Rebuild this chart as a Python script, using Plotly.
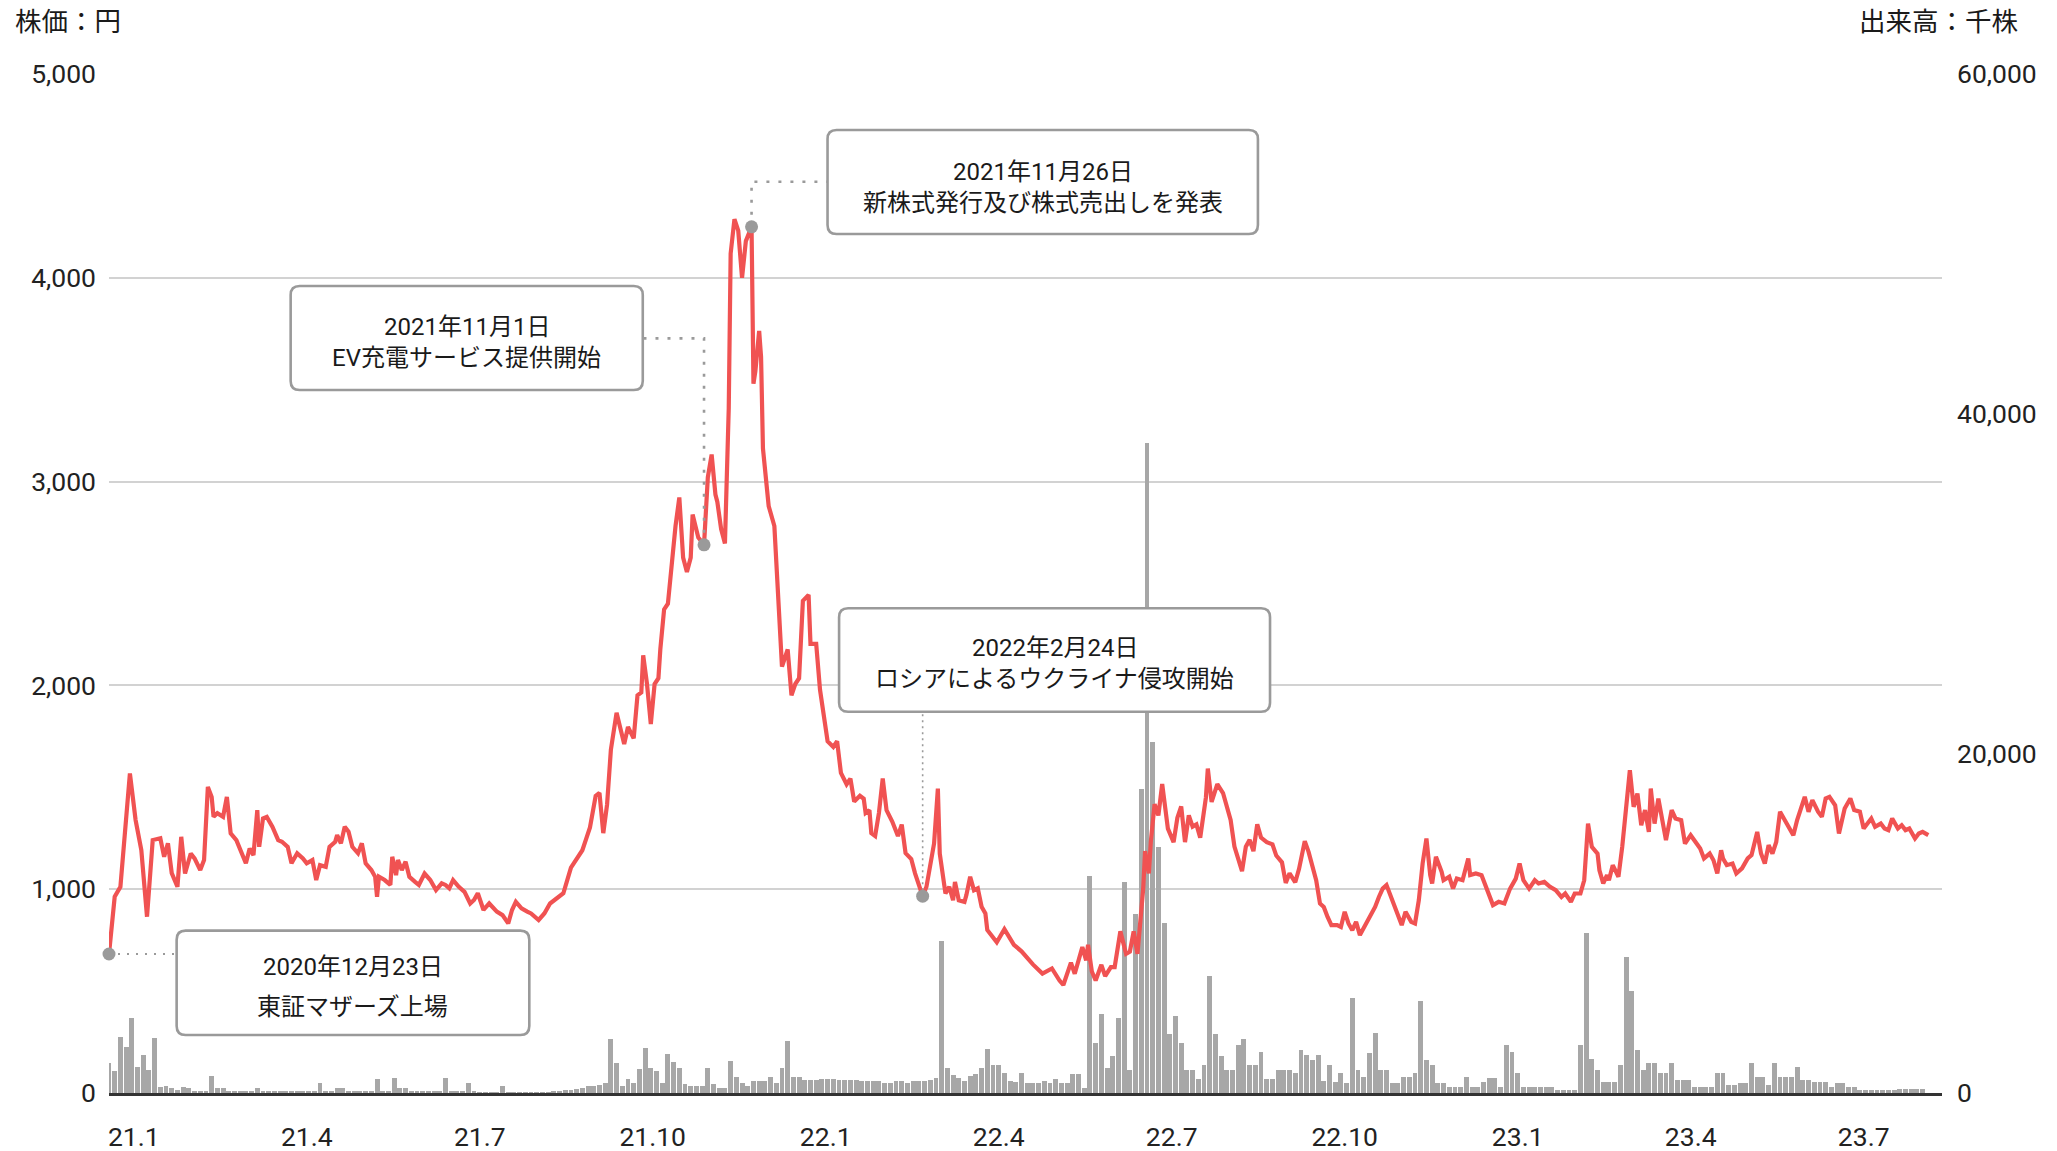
import pandas as pd
import plotly.graph_objects as go

# ---------------------------------------------------------------- data
LISTING = pd.Timestamp("2020-12-23")

# Closing price (yen); x is days elapsed since the listing date
price_day = [
    0, 3, 6, 11, 14, 17, 20, 23, 27, 29, 31, 33, 36, 38, 40, 43, 45, 48, 50, 52,
    54, 55, 57, 60, 62, 64, 67, 69, 72, 74, 76, 78, 79, 81, 83, 86, 89, 91, 94, 96,
    99, 102, 104, 107, 109, 111, 114, 116, 119, 120, 122, 124, 126, 128, 131, 133, 135, 138, 140, 141,
    142, 145, 148, 149, 151, 152, 154, 156, 158, 161, 163, 166, 169, 172, 175, 177, 179, 181, 184, 187,
    190, 192, 194, 197, 200, 204, 207, 210, 212, 214, 217, 220, 222, 226, 229, 232, 239, 243, 246, 249,
    251, 253, 256, 258, 260, 262, 264, 267, 271, 273, 276, 278, 280, 281, 283, 285, 287, 289, 290, 292,
    294, 295, 298, 300, 302, 304, 306, 307, 309, 310, 313, 315, 317, 319, 320, 322, 324, 326, 327, 329,
    331, 333, 335, 338, 339, 340, 342, 343, 344, 347, 350, 352, 354, 357, 359, 361, 363, 365, 368, 369,
    372, 374, 378, 381, 383, 385, 388, 390, 392, 395, 397, 398, 400, 401, 403, 405, 407, 409, 412, 415,
    417, 419, 422, 424, 426, 428, 430, 432, 434, 436, 437, 440, 442, 444, 445, 447, 450, 451, 453, 455,
    457, 459, 461, 462, 467, 471, 476, 480, 486, 491, 496, 500, 502, 506, 508, 512, 514, 515, 517, 519,
    522, 524, 527, 529, 532, 535, 537, 539, 541, 544, 545, 547, 548, 550, 552, 554, 557, 560, 562, 564,
    566, 568, 570, 572, 574, 577, 578, 580, 583, 586, 588, 590, 592, 594, 596, 598, 600, 602, 604, 606,
    609, 612, 614, 617, 619, 621, 624, 626, 629, 631, 635, 637, 639, 641, 643, 646, 648, 650, 652, 654,
    656, 658, 661, 663, 666, 668, 670, 672, 675, 678, 680, 682, 685, 687, 689, 691, 693, 695, 696, 698,
    701, 702, 705, 707, 709, 712, 715, 716, 719, 722, 725, 728, 731, 734, 737, 740, 742, 744, 747, 750,
    752, 755, 758, 761, 764, 766, 769, 771, 774, 776, 778, 780, 783, 784, 786, 788, 789, 791, 794, 796,
    800, 802, 804, 806, 808, 810, 811, 813, 815, 817, 819, 822, 824, 827, 829, 832, 834, 837, 839, 842,
    844, 846, 848, 849, 851, 854, 856, 859, 862, 864, 867, 869, 871, 873, 875, 877, 879, 882, 884, 886,
    888, 890, 892, 894, 896, 899, 901, 903, 905, 908, 910, 913, 916, 918, 921, 923, 925, 927, 929, 932,
    934, 936, 938, 941, 943, 945, 947, 950, 952, 954, 957,
]
price_yen = [
    682, 963, 1012, 1568, 1339, 1192, 865, 1241, 1250, 1159, 1225, 1079, 1012, 1257, 1077, 1175, 1151, 1094, 1143, 1502,
    1453, 1355, 1373, 1355, 1453, 1274, 1241, 1192, 1127, 1200, 1167, 1388, 1208, 1347, 1355, 1306, 1241, 1233, 1208, 1127,
    1176, 1151, 1127, 1143, 1045, 1118, 1110, 1208, 1233, 1265, 1225, 1306, 1282, 1208, 1176, 1225, 1127, 1094, 1061, 963,
    1061, 1045, 1021, 1159, 1069, 1143, 1094, 1135, 1061, 1036, 1021, 1077, 1045, 996, 1029, 1021, 1004, 1045, 1012, 987,
    930, 947, 980, 898, 930, 890, 873, 832, 898, 938, 906, 890, 881, 849, 881, 930, 980, 1106, 1148, 1191,
    1247, 1303, 1458, 1472, 1275, 1416, 1684, 1866, 1712, 1796, 1740, 1951, 1965, 2148, 2007, 1810, 2007, 2035, 2176, 2373,
    2401, 2500, 2782, 2922, 2627, 2556, 2627, 2838, 2767, 2725, 2690, 3021, 3133, 2936, 2900, 2767, 2697, 3359, 4119, 4288,
    4231, 4000, 4180, 4250, 3480, 3542, 3739, 3612, 3162, 2880, 2782, 2458, 2092, 2176, 1951, 2007, 2035, 2415, 2444, 2204,
    2204, 1979, 1726, 1698, 1726, 1571, 1515, 1543, 1430, 1458, 1444, 1374, 1388, 1275, 1261, 1374, 1543, 1388, 1332, 1261,
    1317, 1177, 1148, 1078, 1022, 966, 1012, 1110, 1224, 1494, 1175, 979, 1012, 946, 1036, 946, 938, 971, 1061, 995,
    1004, 914, 881, 800, 740, 804, 727, 695, 631, 586, 611, 552, 530, 640, 585, 716, 651, 727, 596, 552,
    629, 574, 618, 618, 793, 683, 694, 793, 683, 1001, 1187, 1078, 1231, 1417, 1362, 1516, 1297, 1231, 1351, 1406,
    1231, 1362, 1307, 1318, 1253, 1450, 1592, 1428, 1516, 1472, 1406, 1340, 1209, 1143, 1089, 1209, 1242, 1187, 1318, 1253,
    1231, 1220, 1165, 1132, 1031, 1078, 1034, 1100, 1236, 1183, 1044, 930, 913, 864, 824, 824, 815, 889, 832, 799,
    840, 775, 824, 864, 913, 962, 1003, 1020, 946, 881, 824, 889, 840, 832, 946, 1126, 1249, 1069, 1028, 1159,
    1085, 1044, 1061, 1003, 1052, 1044, 1151, 1069, 1077, 1069, 996, 922, 938, 930, 1003, 1052, 1126, 1044, 1003, 1044,
    1028, 1036, 1012, 995, 962, 979, 938, 979, 979, 1044, 1322, 1208, 1175, 1093, 1028, 1069, 1044, 1118, 1061, 1208,
    1584, 1404, 1469, 1314, 1388, 1281, 1494, 1322, 1445, 1339, 1241, 1388, 1347, 1339, 1224, 1265, 1241, 1200, 1151, 1175,
    1142, 1077, 1191, 1151, 1118, 1126, 1077, 1102, 1151, 1167, 1281, 1175, 1126, 1216, 1175, 1232, 1380, 1331, 1290, 1265,
    1339, 1404, 1453, 1380, 1437, 1380, 1355, 1445, 1453, 1412, 1273, 1396, 1445, 1388, 1380, 1298, 1322, 1347, 1306, 1322,
    1298, 1290, 1347, 1298, 1314, 1290, 1298, 1249, 1273, 1281, 1265,
]

# Trading volume (thousand shares), one bar per 3-day bucket starting at listing
VOLUME_STEP_DAYS = 3
volume_k = [
    1746, 1300, 3316, 2727, 4395, 1550, 2237, 1354, 3218, 373,
    412, 275, 177, 373, 275, 78, 78, 78, 1000, 300,
    275, 137, 137, 137, 137, 137, 275, 78, 78, 78,
    78, 78, 120, 78, 78, 78, 78, 600, 137, 137,
    275, 275, 98, 98, 98, 98, 98, 800, 137, 137,
    900, 275, 275, 78, 78, 78, 78, 78, 78, 900,
    78, 78, 78, 570, 78, 40, 40, 40, 40, 400,
    20, 20, 20, 20, 20, 20, 20, 20, 60, 120,
    150, 200, 250, 300, 439, 439, 500, 608, 3209, 1790,
    439, 845, 608, 1385, 2635, 1453, 1284, 608, 2297, 1800,
    1500, 507, 439, 439, 439, 1453, 507, 270, 270, 1858,
    946, 600, 439, 709, 709, 709, 946, 608, 1453, 3074,
    946, 946, 777, 777, 777, 845, 845, 845, 777, 777,
    777, 777, 709, 709, 709, 709, 600, 600, 700, 700,
    600, 700, 709, 700, 765, 900, 8955, 1450, 1060, 900,
    700, 1000, 1100, 1500, 2600, 1650, 1650, 1200, 700, 667,
    1200, 570, 570, 570, 700, 570, 800, 578, 578, 1103,
    1103, 315, 12793, 2942, 4650, 1500, 2154, 4387, 12452, 1366,
    10561, 17916, 38275, 20674, 14500, 10000, 3468, 4518, 2942, 1366,
    1366, 841, 1629, 6883, 3468, 2154, 1366, 1366, 2811, 3205,
    1629, 1629, 2417, 841, 841, 1366, 1366, 1354, 1158, 2531,
    2237, 1942, 2237, 700, 1648, 667, 1158, 569, 5572, 1354,
    961, 2335, 3512, 1354, 1354, 569, 569, 961, 961, 1158,
    5415, 1942, 1648, 569, 569, 373, 373, 373, 961, 373,
    373, 667, 863, 863, 373, 2825, 2433, 1158, 373, 373,
    373, 373, 373, 373, 177, 177, 177, 177, 2825, 9398,
    2000, 1354, 667, 667, 667, 1648, 8025, 6000, 2531, 1354,
    1746, 1746, 1158, 1158, 1746, 765, 765, 765, 373, 373,
    373, 373, 1158, 1158, 471, 471, 569, 569, 1746, 961,
    961, 471, 1746, 961, 961, 961, 1550, 765, 765, 667,
    667, 667, 373, 569, 569, 373, 373, 177, 177, 177,
    177, 177, 177, 177, 216, 216, 216, 216, 216,
]

# Company / market events
event_dates = ["2020-12-23", "2021-11-01", "2021-11-26", "2022-02-24"]
event_notes = [
    "東証マザーズ上場",
    "EV充電サービス提供開始",
    "新株式発行及び株式売出しを発表",
    "ロシアによるウクライナ侵攻開始",
]

# Axis ticks
tick_dates = pd.date_range("2021-01-05", periods=11, freq="91D")
tick_text = ["21.1", "21.4", "21.7", "21.10", "22.1", "22.4",
             "22.7", "22.10", "23.1", "23.4", "23.7"]
price_ticks = [0, 1000, 2000, 3000, 4000, 5000]
volume_ticks = [0, 20000, 40000, 60000]

# ---------------------------------------------------------------- layout constants
W, H = 2057, 1151
M_L, M_R, M_T, M_B = 109, 115, 74, 58
PLOT_W, PLOT_H = W - M_L - M_R, H - M_T - M_B
X_RANGE = [LISTING, LISTING + pd.Timedelta(days=964.2)]
PRICE_RANGE = [0, 5000]
VOLUME_RANGE = [0, 60000]

FONT = "Roboto, 'Noto Sans CJK JP', sans-serif"
RED = "#F05252"
BAR_GREY = "#A7A7A7"
BOX_GREY = "#9A9A9A"
TEXT = "#1A1A1A"
AXIS_TEXT = 26.5

# callout boxes (paper coordinates), one per event
boxes = [
    dict(x0=0.0369, x1=0.2293, y0=0.0569, y1=0.1593, text_y=(0.1239, 0.0847), link="h"),
    dict(x0=0.0991, x1=0.2912, y0=0.6899, y1=0.7920, text_y=(0.7520, 0.7210),
         link="elbow", elbow_y=0.7406, side="right"),
    dict(x0=0.3920, x1=0.6268, y0=0.8430, y1=0.9451, text_y=(0.9041, 0.8731),
         link="elbow", elbow_y=0.8943, side="left"),
    dict(x0=0.3983, x1=0.6334, y0=0.3742, y1=0.4757, text_y=(0.4364, 0.4063), link="v"),
]

# ---------------------------------------------------------------- series
price_dates = LISTING + pd.to_timedelta(price_day, unit="D")
price = pd.Series(price_yen, index=price_dates)
volume_dates = pd.date_range(LISTING, periods=len(volume_k), freq=f"{VOLUME_STEP_DAYS}D")

ev_dates = pd.to_datetime(event_dates)
ev_price = price.loc[ev_dates].values


def x_paper(ts):
    span = (X_RANGE[1] - X_RANGE[0]).total_seconds()
    return (ts - X_RANGE[0]).total_seconds() / span


def y_paper(v):
    return (v - PRICE_RANGE[0]) / (PRICE_RANGE[1] - PRICE_RANGE[0])


fig = go.Figure()

fig.add_trace(go.Bar(
    x=volume_dates, y=volume_k, yaxis="y",
    width=VOLUME_STEP_DAYS * 86400000 * 0.86,
    marker=dict(color=BAR_GREY, line=dict(width=0)),
    hoverinfo="skip",
))

fig.add_trace(go.Scatter(
    x=price_dates, y=price_yen, yaxis="y2", mode="lines",
    line=dict(color=RED, width=4.2), hoverinfo="skip",
))

fig.add_trace(go.Scatter(
    x=ev_dates, y=ev_price, yaxis="y2", mode="markers",
    marker=dict(color=BOX_GREY, size=13), cliponaxis=False, hoverinfo="skip",
))

# ---------------------------------------------------------------- callouts
shapes = []
annotations = []
rx, ry = 9 / PLOT_W, 9 / PLOT_H


def rounded(b):
    x0, x1, y0, y1 = b["x0"], b["x1"], b["y0"], b["y1"]
    return (f"M {x0+rx},{y0} L {x1-rx},{y0} Q {x1},{y0} {x1},{y0+ry} "
            f"L {x1},{y1-ry} Q {x1},{y1} {x1-rx},{y1} "
            f"L {x0+rx},{y1} Q {x0},{y1} {x0},{y1-ry} "
            f"L {x0},{y0+ry} Q {x0},{y0} {x0+rx},{y0} Z")


for d, p, note, b in zip(ev_dates, ev_price, event_notes, boxes):
    ex, ey = x_paper(d), y_paper(p)
    if b["link"] == "h":
        path = f"M {ex},{ey} L {b['x0']},{ey}"
        dash, lw = "2px,7px", 2.2
    elif b["link"] == "v":
        path = f"M {ex},{ey} L {ex},{b['y0']}"
        dash, lw = "2px,4px", 1.6
    else:
        edge = b["x1"] if b["side"] == "right" else b["x0"]
        path = f"M {ex},{ey} L {ex},{b['elbow_y']} L {edge},{b['elbow_y']}"
        dash, lw = "3px,9px", 2.6
    shapes.append(dict(type="path", xref="paper", yref="paper", path=path,
                       line=dict(color=BOX_GREY, width=lw, dash=dash), layer="above"))
    shapes.append(dict(type="path", xref="paper", yref="paper", path=rounded(b),
                       line=dict(color=BOX_GREY, width=2.6), fillcolor="white", layer="above"))
    cx = (b["x0"] + b["x1"]) / 2
    title = f"{d.year}年{d.month}月{d.day}日"
    for txt, ty in zip((title, note), b["text_y"]):
        annotations.append(dict(
            x=cx, y=ty, xref="paper", yref="paper", text=txt, showarrow=False,
            xanchor="center", yanchor="middle", font=dict(size=24, color=TEXT, family=FONT),
        ))

annotations.append(dict(
    x=-0.0524, y=1.052, xref="paper", yref="paper", text="株価：円", showarrow=False,
    xanchor="left", yanchor="middle", font=dict(size=AXIS_TEXT, color=TEXT, family=FONT),
))
annotations.append(dict(
    x=1.0426, y=1.052, xref="paper", yref="paper", text="出来高：千株", showarrow=False,
    xanchor="right", yanchor="middle", font=dict(size=AXIS_TEXT, color=TEXT, family=FONT),
))

tick_font = dict(size=AXIS_TEXT, color="#222222", family=FONT)

fig.update_layout(
    width=W, height=H,
    margin=dict(l=M_L, r=M_R, t=M_T, b=M_B, pad=0, autoexpand=False),
    paper_bgcolor="white", plot_bgcolor="white",
    showlegend=False, bargap=0,
    font=dict(family=FONT, size=24, color="#222222"),
    xaxis=dict(
        type="date", range=X_RANGE, tickvals=tick_dates, ticktext=tick_text,
        showgrid=False, zeroline=False, showline=True, linecolor="#333333", linewidth=3,
        ticks="", ticklabelstandoff=18, tickfont=tick_font, automargin=False,
    ),
    yaxis=dict(
        range=VOLUME_RANGE, side="right", tickvals=volume_ticks, tickformat=",d",
        showgrid=False, zeroline=False, showline=False, ticks="",
        ticklabelstandoff=14, tickfont=tick_font, automargin=False,
    ),
    yaxis2=dict(
        range=PRICE_RANGE, side="left", overlaying="y", tickvals=price_ticks, tickformat=",d",
        showgrid=True, gridcolor="#D2D2D2", gridwidth=2, zeroline=False, showline=False,
        ticks="", ticklabelstandoff=12, tickfont=tick_font, automargin=False,
    ),
    shapes=shapes, annotations=annotations,
)

fig.write_html("out.html")
